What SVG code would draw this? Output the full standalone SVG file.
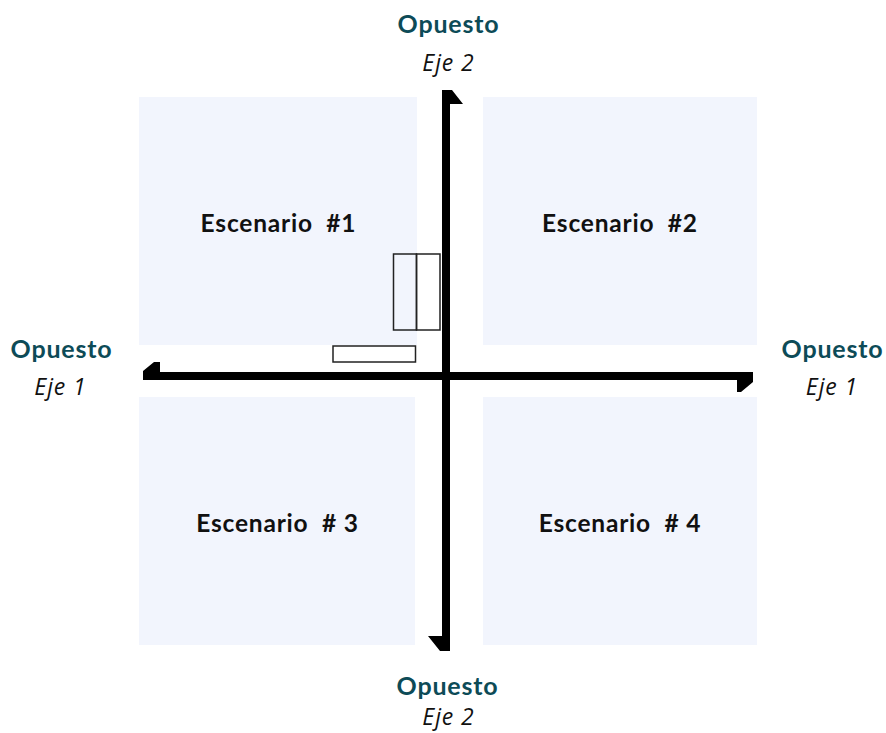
<svg xmlns="http://www.w3.org/2000/svg" width="886" height="733" viewBox="0 0 886 733">
<style>
.q{fill:#F2F5FD}
.qt{font-family:Lato,"Noto Sans",sans-serif;font-weight:bold;font-size:24.5px;letter-spacing:0.8px;fill:#111;text-anchor:middle;white-space:pre}
.op{font-family:Lato,"Noto Sans",sans-serif;font-weight:bold;font-size:25px;letter-spacing:0.8px;fill:#0D4B57;text-anchor:middle}
.ej{font-family:"Open Sans","Noto Sans",sans-serif;font-style:italic;font-size:23px;letter-spacing:0.9px;fill:#111;text-anchor:middle}
.bx{fill:none;stroke:#222;stroke-width:1.5}
.ax{fill:#000}
</style>
<rect width="886" height="733" fill="#fff"/>
<g id="escenario1"><rect class="q" x="139" y="97" width="278" height="248"/><text class="qt" x="278.5" y="232" xml:space="preserve">Escenario  #1</text></g>
<g id="escenario2"><rect class="q" x="483" y="97" width="274" height="248"/><text class="qt" x="620" y="232" xml:space="preserve">Escenario  #2</text></g>
<g id="escenario3"><rect class="q" x="139" y="397" width="276" height="248"/><text class="qt" x="277.5" y="532" xml:space="preserve">Escenario  # 3</text></g>
<g id="escenario4"><rect class="q" x="483" y="397" width="274" height="248"/><text class="qt" x="620" y="532" xml:space="preserve">Escenario  # 4</text></g>
<g id="boxes">
<rect class="bx" x="393.5" y="254" width="23" height="76"/>
<rect class="bx" x="416.5" y="254" width="23.5" height="76"/>
<rect class="bx" x="333" y="346" width="82.5" height="16"/>
</g>
<g id="connectors">
<path class="ax" d="M442,90 L452,90 L463,104 L450,104 L450,651 L440,651 L428,636 L442,636 Z"/>
<path class="ax" d="M143,371 L154,362 L160,362 L160,372 L753,372 L753,382 L741,392 L737,392 L737,380 L143,380 Z"/>
</g>
<g id="label-top"><text class="op" x="448.5" y="33">Opuesto</text><text class="ej" x="448.5" y="71">Eje 2</text></g>
<g id="label-left"><text class="op" x="61.5" y="358">Opuesto</text><text class="ej" x="60.5" y="395">Eje 1</text></g>
<g id="label-right"><text class="op" x="832.5" y="358">Opuesto</text><text class="ej" x="832" y="395">Eje 1</text></g>
<g id="label-bottom"><text class="op" x="447.5" y="695">Opuesto</text><text class="ej" x="448.5" y="725">Eje 2</text></g>
</svg>
